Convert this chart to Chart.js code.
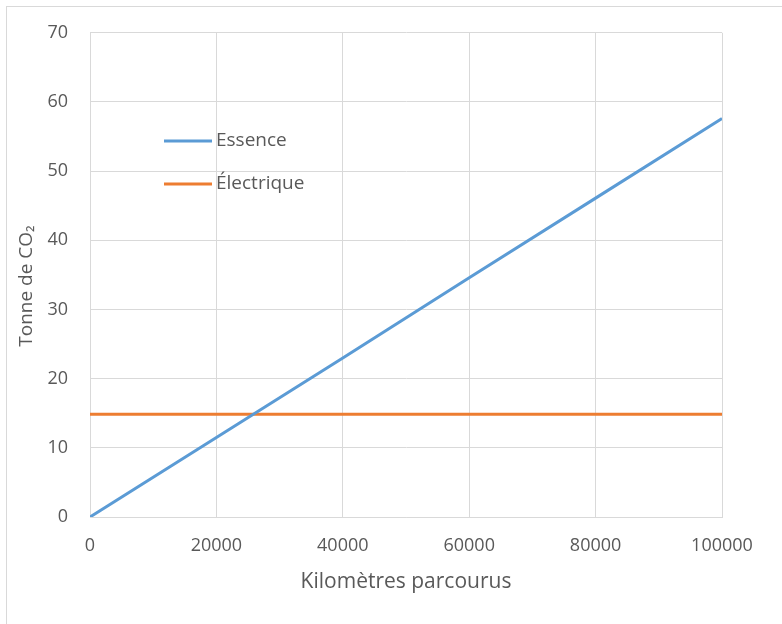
<!DOCTYPE html>
<html>
<head>
<meta charset="utf-8">
<script src="https://cdn.jsdelivr.net/npm/chart.js@4/dist/chart.umd.min.js"></script>
<style>
  body { margin: 0; background: #fff; }
  #wrap { position: relative; width: 782px; height: 624px; overflow: hidden; }
  #frame { position: absolute; left: 6px; top: 6px; width: 800px; height: 700px; border: 1px solid #d9d9d9; }
  canvas { position: absolute; left: 0; top: 0; }
</style>
</head>
<body>
<div id="wrap">
  <div id="frame"></div>
  <canvas id="myChart" width="782" height="624"></canvas>
</div>
<script>
"use strict";
// values
const kilometres = [0, 20000, 40000, 60000, 80000, 100000];
const essence = [0, 11.5, 23.0, 34.6, 46.1, 57.6];
const electrique = [14.85, 14.85, 14.85, 14.85, 14.85, 14.85];
const seriesNames = ["Essence", "Électrique"];
const seriesColors = ["#5b9bd5", "#ed7d31"];
const yTitle = "Tonne de CO₂";
const xTitle = "Kilomètres parcourus";

const textColor = "#595959";
const gridColor = "#d9d9d9";
const fontFamily = "'Open Sans', sans-serif";

function toPoints(values) {
  return kilometres.map((k, i) => ({ x: k, y: values[i] }));
}

// legend drawn inside the plot, like the Excel one, plus the y title
const innerLegend = {
  id: "innerLegend",
  afterDraw(chart) {
    let ctx = chart.ctx;
    ctx.save();
    ctx.font = "19px " + fontFamily;
    ctx.textBaseline = "middle";
    chart.data.datasets.forEach((ds, i) => {
      let y = 141 + i * 43;
      ctx.strokeStyle = ds.borderColor;
      ctx.lineWidth = 3;
      ctx.beginPath();
      ctx.moveTo(164, y);
      ctx.lineTo(212, y);
      ctx.stroke();
      ctx.fillStyle = textColor;
      ctx.fillText(ds.label, 216, y);
    });

    ctx.translate(27, 286);
    ctx.rotate(-Math.PI / 2);
    ctx.textAlign = "center";
    ctx.fillText(yTitle, 0, 0);
    ctx.restore();
  }
};

function makeChart() {
  let ctx = document.getElementById("myChart");
  new Chart(ctx, {
    type: "line",
    data: {
      datasets: [
        {
          label: seriesNames[0],
          data: toPoints(essence),
          borderColor: seriesColors[0],
          borderWidth: 3,
          pointRadius: 0,
          fill: false
        },
        {
          label: seriesNames[1],
          data: toPoints(electrique),
          borderColor: seriesColors[1],
          borderWidth: 3,
          pointRadius: 0,
          fill: false
        }
      ]
    },
    plugins: [innerLegend],
    options: {
      responsive: false,
      animation: false,
      layout: { padding: { top: 32, right: 60, bottom: 0, left: 0 } },
      plugins: {
        legend: { display: false },
        tooltip: { enabled: false }
      },
      scales: {
        x: {
          type: "linear",
          min: 0,
          max: 100000,
          afterFit: s => { s.height = 107; },
          ticks: {
            stepSize: 20000,
            padding: 18,
            maxRotation: 0,
            color: textColor,
            font: { family: fontFamily, size: 18 },
            callback: v => String(v)
          },
          grid: { color: gridColor, drawTicks: false },
          border: { color: gridColor },
          title: {
            display: true,
            text: xTitle,
            color: textColor,
            font: { family: fontFamily, size: 21 },
            padding: { top: 0, bottom: 29 }
          }
        },
        y: {
          min: 0,
          max: 70,
          afterFit: s => { s.width = 90; },
          ticks: {
            stepSize: 10,
            padding: 22,
            color: textColor,
            font: { family: fontFamily, size: 18 }
          },
          grid: { color: gridColor, drawTicks: false },
          border: { color: gridColor }
        }
      }
    }
  });
}

makeChart();
</script>
</body>
</html>
